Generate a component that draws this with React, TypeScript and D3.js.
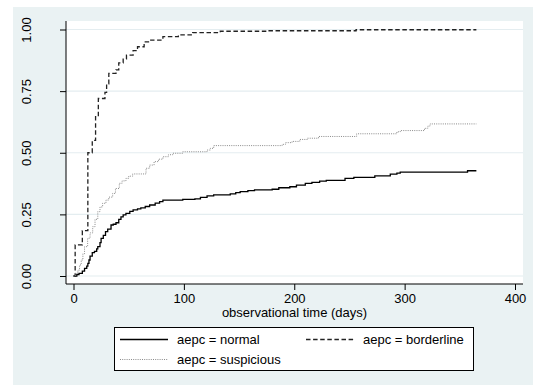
import React, { useEffect, useRef } from "react";
import {
  select,
  scaleLinear,
  line,
  curveStepAfter,
  axisLeft,
  axisBottom,
  format
} from "d3";

// tick values
const xTicks = [0, 100, 200, 300, 400];
const yTicks = [0, 0.25, 0.5, 0.75, 1];

// failure estimates (days, cumulative failure)
const normalTime = [0, 3, 5, 8, 10, 12, 13, 14, 15, 17, 19, 21, 22, 24, 25, 27, 29, 31, 34, 36, 38.5, 41, 43, 45, 47.5, 51, 54, 58, 61, 65, 69, 74, 78, 81, 99, 110, 115, 121, 127, 142, 147, 151, 158, 164, 180, 186, 196, 202, 210, 216, 223, 229, 246, 254, 273, 287, 293, 296, 357, 365];
const normalFail = [0, 0.006, 0.011, 0.02, 0.031, 0.04, 0.051, 0.065, 0.081, 0.095, 0.1, 0.11, 0.119, 0.135, 0.153, 0.165, 0.18, 0.19, 0.207, 0.21, 0.216, 0.23, 0.24, 0.248, 0.254, 0.262, 0.268, 0.272, 0.276, 0.282, 0.288, 0.296, 0.302, 0.308, 0.311, 0.313, 0.319, 0.325, 0.329, 0.333, 0.338, 0.342, 0.346, 0.349, 0.352, 0.358, 0.362, 0.369, 0.376, 0.38, 0.385, 0.388, 0.396, 0.4, 0.406, 0.413, 0.417, 0.421, 0.427, 0.427];

const borderlineTime = [0, 1.5, 8, 13, 17, 20, 22.5, 28.5, 30, 32, 38.5, 41, 45, 48, 54, 58, 64, 70, 81, 95, 108, 133, 175, 256, 365];
const borderlineFail = [0, 0.126, 0.184, 0.5, 0.55, 0.646, 0.72, 0.745, 0.78, 0.822, 0.836, 0.865, 0.88, 0.896, 0.914, 0.93, 0.95, 0.957, 0.971, 0.978, 0.987, 0.993, 0.995, 0.999, 0.999];

const suspiciousTime = [0, 2, 4, 5.5, 7, 8.5, 10, 12.8, 15, 17.4, 19.5, 22, 24, 26.4, 29.4, 32, 35.5, 38, 41.5, 44, 47.5, 50, 53.6, 65.7, 69, 73, 77, 81, 86, 90, 99, 121, 124, 127, 189, 192, 198, 205, 212, 222, 256.5, 293, 296, 318, 321, 323, 365];
const suspiciousFail = [0, 0.012, 0.024, 0.045, 0.065, 0.09, 0.119, 0.153, 0.175, 0.2, 0.23, 0.261, 0.28, 0.295, 0.308, 0.32, 0.335, 0.355, 0.376, 0.386, 0.396, 0.405, 0.414, 0.437, 0.45, 0.464, 0.474, 0.484, 0.492, 0.498, 0.504, 0.511, 0.518, 0.529, 0.534, 0.541, 0.546, 0.554, 0.559, 0.566, 0.577, 0.585, 0.59, 0.599, 0.608, 0.617, 0.617];

const seriesLabels = ["aepc = normal", "aepc = borderline", "aepc = suspicious"];

const FONT = "'Liberation Sans', Arial, sans-serif";
const FONT_SIZE = 13;

function FailureChart() {
  const svgRef = useRef<SVGSVGElement>(null);

  useEffect(() => {
    const svg = select(svgRef.current);
    svg.selectAll("*").remove();

    const width = 533;
    const height = 385;
    const plot = { left: 66, right: 523, top: 21, bottom: 284 };

    const xScale = scaleLinear().domain([0, 400]).range([73.5, 515]);
    const yScale = scaleLinear().domain([0, 1]).range([276, 29.5]);

    // backgrounds
    svg.append("rect").attr("width", width).attr("height", height).attr("fill", "#ffffff");
    svg
      .append("rect")
      .attr("x", 13)
      .attr("y", 7)
      .attr("width", width - 13)
      .attr("height", height - 7)
      .attr("fill", "#eaf2f3");
    svg
      .append("rect")
      .attr("x", plot.left)
      .attr("y", plot.top)
      .attr("width", plot.right - plot.left)
      .attr("height", plot.bottom - plot.top)
      .attr("fill", "#ffffff");

    // grid
    svg
      .append("g")
      .selectAll("line")
      .data(yTicks)
      .join("line")
      .attr("x1", plot.left)
      .attr("x2", plot.right)
      .attr("y1", d => yScale(d))
      .attr("y2", d => yScale(d))
      .attr("stroke", "#e4edf0")
      .attr("stroke-width", 1.2);

    // lines
    const series = [
      { t: normalTime, v: normalFail, color: "#000", width: 1.3, dash: null },
      { t: borderlineTime, v: borderlineFail, color: "#222", width: 1.3, dash: "4.5 2.6" },
      { t: suspiciousTime, v: suspiciousFail, color: "#8a8a8a", width: 1, dash: "1 1.2" }
    ];
    const stepLine = line<[number, number]>()
      .x(d => xScale(d[0]))
      .y(d => yScale(d[1]))
      .curve(curveStepAfter);

    svg
      .append("g")
      .selectAll("path")
      .data(series)
      .join("path")
      .attr("d", s => stepLine(s.t.map((t, i) => [t, s.v[i]] as [number, number])))
      .attr("fill", "none")
      .attr("stroke", s => s.color)
      .attr("stroke-width", s => s.width)
      .attr("stroke-dasharray", s => s.dash);

    // axes
    const yAxis = axisLeft(yScale)
      .tickValues(yTicks)
      .tickSize(6)
      .tickSizeOuter(0)
      .tickFormat(format(".2f"));
    const yG = svg.append("g").attr("transform", `translate(${plot.left},0)`).call(yAxis);
    yG.select(".domain").remove();
    yG.selectAll("line").attr("stroke", "#000");
    yG.selectAll("text")
      .attr("x", 0)
      .attr("dy", 0)
      .attr("text-anchor", "middle")
      .attr("transform", "translate(-35.5,0) rotate(-90)")
      .attr("font-family", FONT)
      .attr("font-size", FONT_SIZE)
      .attr("fill", "#000");

    const xAxis = axisBottom(xScale).tickValues(xTicks).tickSize(6).tickSizeOuter(0).tickPadding(4);
    const xG = svg.append("g").attr("transform", `translate(0,${plot.bottom})`).call(xAxis);
    xG.select(".domain").remove();
    xG.selectAll("line").attr("stroke", "#000");
    xG.selectAll("text")
      .attr("y", 19)
      .attr("dy", 0)
      .attr("font-family", FONT)
      .attr("font-size", FONT_SIZE)
      .attr("fill", "#000");

    svg
      .append("line")
      .attr("x1", plot.left)
      .attr("x2", plot.left)
      .attr("y1", plot.top)
      .attr("y2", plot.bottom)
      .attr("stroke", "#000");
    svg
      .append("line")
      .attr("x1", plot.left)
      .attr("x2", plot.right)
      .attr("y1", plot.bottom)
      .attr("y2", plot.bottom)
      .attr("stroke", "#000");

    svg
      .append("text")
      .attr("x", (plot.left + plot.right) / 2)
      .attr("y", 317)
      .attr("text-anchor", "middle")
      .attr("font-family", FONT)
      .attr("font-size", FONT_SIZE)
      .text("observational time (days)");

    // legend
    const legend = svg.append("g");
    legend
      .append("rect")
      .attr("x", 114.5)
      .attr("y", 327.5)
      .attr("width", 359)
      .attr("height", 43)
      .attr("fill", "#fff")
      .attr("stroke", "#000");
    const slots = [
      { x: 120, y: 339.5 },
      { x: 306, y: 339.5 },
      { x: 120, y: 359.5 }
    ];
    series.forEach((s, i) => {
      const p = slots[i];
      legend
        .append("line")
        .attr("x1", p.x)
        .attr("x2", p.x + 48)
        .attr("y1", p.y)
        .attr("y2", p.y)
        .attr("stroke", s.color)
        .attr("stroke-width", s.width)
        .attr("stroke-dasharray", s.dash);
      legend
        .append("text")
        .attr("x", p.x + 57)
        .attr("y", p.y + 4.7)
        .attr("font-family", FONT)
        .attr("font-size", FONT_SIZE)
        .text(seriesLabels[i]);
    });
  }, []);

  return (
    <svg
      ref={svgRef}
      width={533}
      height={385}
      style={{ position: "absolute", left: 0, top: 0 }}
    />
  );
}

export default function App() {
  return <FailureChart />;
}
